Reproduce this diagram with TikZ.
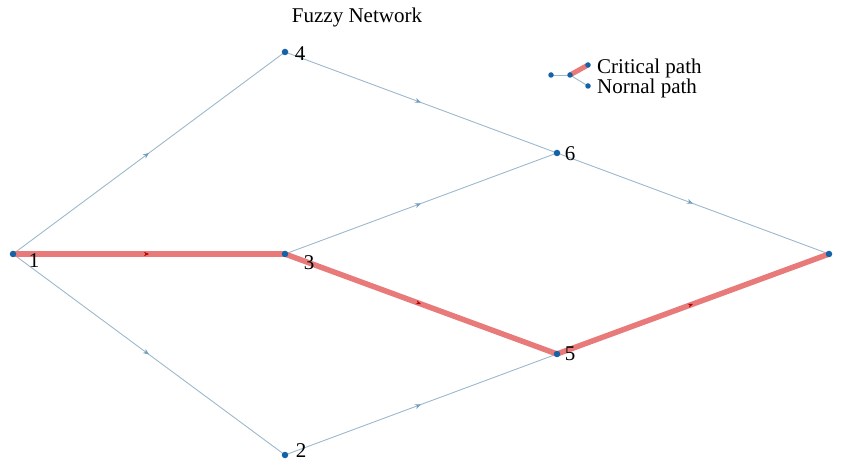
\documentclass[tikz,border=0pt]{standalone}
\usepackage{fontspec}
\setmainfont{Liberation Serif}
\usetikzlibrary{decorations.markings,arrows.meta}
\definecolor{edgeblue}{HTML}{9DB8CC}
\definecolor{critred}{HTML}{E87A7A}
\definecolor{dotblue}{HTML}{1463A8}
\tikzset{
  dot/.style={circle,fill=dotblue,inner sep=0pt,minimum size=6.5pt},
  lbl/.style={font=\fontsize{21}{21}\selectfont,inner sep=0pt},
  normal/.style={draw=edgeblue,line width=0.9pt,
    postaction={decorate},decoration={markings,
      mark=at position 0.5 with {\arrow[edgeblue!70!dotblue]{Stealth[length=6pt,width=5pt]}}}},
  critical/.style={draw=critred,line width=5.5pt,
    postaction={decorate},decoration={markings,
      mark=at position 0.5 with {\arrow[red!70!black,line width=0.5pt]{Stealth[length=5pt,width=4pt]}}}},
}
\begin{document}
\begin{tikzpicture}[x=1pt,y=-1pt]
\useasboundingbox (0,0) rectangle (841,462);
\coordinate (p1) at (13,254);
\coordinate (p4) at (285,52);
\coordinate (p3) at (285,254);
\coordinate (p2) at (285,455);
\coordinate (p6) at (557,153);
\coordinate (p5) at (557,354);
\coordinate (p7) at (829,254);
% edges
\draw[normal] (p1) -- (p4);
\draw[normal] (p1) -- (p2);
\draw[normal] (p4) -- (p6);
\draw[normal] (p3) -- (p6);
\draw[normal] (p2) -- (p5);
\draw[normal] (p6) -- (p7);
\draw[critical] (p1) -- (p3);
\draw[critical] (p3) -- (p5);
\draw[critical] (p5) -- (p7);
% nodes
\foreach \n in {1,2,3,4,5,6,7} \node[dot] (n\n) at (p\n) {};
% labels
\node[lbl] (t1) at (34,261) {1};
\node[lbl] (t4) at (300,54) {4};
\node[lbl] (t3) at (309,263) {3};
\node[lbl] (t2) at (301,451) {2};
\node[lbl] (t6) at (570,154) {6};
\node[lbl] (t5) at (570,354) {5};
% title
\node[lbl] (title) at (357,17) {Fuzzy Network};
% legend
\coordinate (lg1) at (551,75);
\coordinate (lg2) at (570,75);
\coordinate (lg3) at (588,65);
\coordinate (lg4) at (588,86);
\draw[draw=edgeblue,line width=0.9pt] (lg1) -- (lg2);
\draw[draw=edgeblue,line width=0.9pt] (lg2) -- (lg4);
\draw[draw=critred,line width=5pt] (lg2) -- (lg3);
\foreach \n in {1,2,3,4} \node[dot,minimum size=5.5pt] (ld\n) at (lg\n) {};
\node[lbl,anchor=west] (lc) at (597,68) {Critical path};
\node[lbl,anchor=west] (ln) at (597,88) {Nornal path};
\end{tikzpicture}
\end{document}
